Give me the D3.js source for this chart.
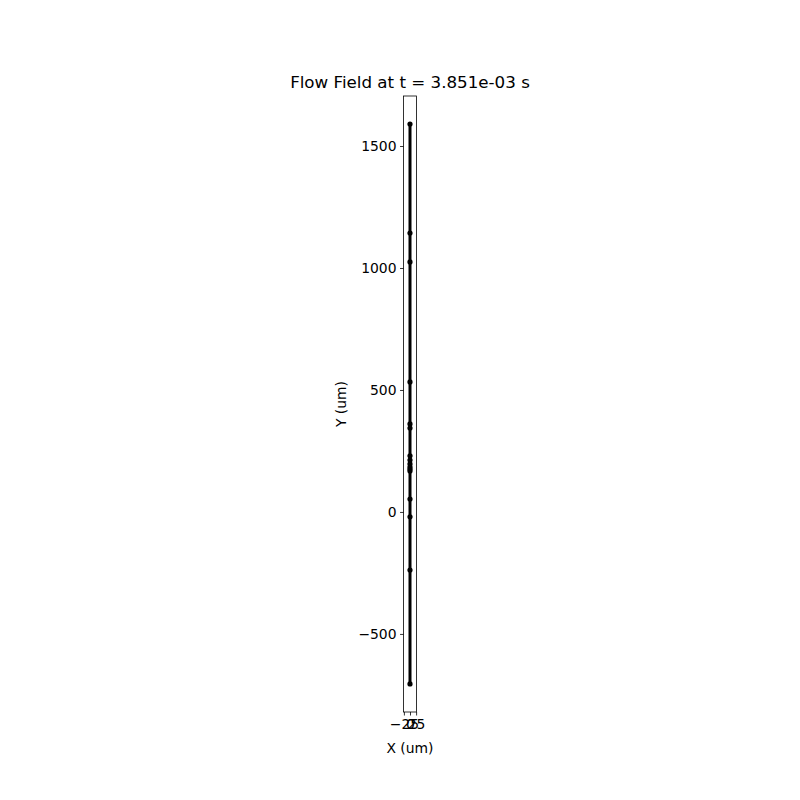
<!DOCTYPE html>
<html>
<head>
<meta charset="utf-8">
<script src="https://cdn.jsdelivr.net/npm/d3@7"></script>
<style>
  body { margin: 0; background: #fff; }
  svg { display: block; font-family: "DejaVu Sans", sans-serif; }
</style>
</head>
<body>
<svg id="chart" width="800" height="800"></svg>
<script>
// Data (um)
const pointX = [0, 0, 0, 0, 0, 0, 0, 0, 0, 0, 0, 0, 0, 0, 0, 0];
const pointY = [1590, 1143, 1025, 533, 361, 344, 230, 213, 197, 184, 176, 168, 53, -20, -238, -705];
const xTicks = [-25, 0, 25];
const yTicks = [-500, 0, 500, 1000, 1500];
const xDomain = [-26.5, 26.5];
const yDomain = [-820, 1705];
const titleText = "Flow Field at t = 3.851e-03 s";

(function () {
const svg = d3.select("#chart");
const plotTop = 96, plotBottom = 712;
const pxPerUnit = (plotBottom - plotTop) / (yDomain[1] - yDomain[0]);
const cx = 410;
const halfW = (xDomain[1] - xDomain[0]) * pxPerUnit / 2;
const plotLeft = cx - halfW, plotRight = cx + halfW;

const x = d3.scaleLinear().domain(xDomain).range([plotLeft, plotRight]);
const y = d3.scaleLinear().domain(yDomain).range([plotBottom, plotTop]);

const pts = pointY.map((v, i) => ({ x: pointX[i], y: v }));

// trajectory line
const sorted = pts.slice().sort((a, b) => b.y - a.y);
svg.append("path")
  .datum(sorted)
  .attr("fill", "none")
  .attr("stroke", "#000")
  .attr("stroke-width", 3)
  .attr("d", d3.line().x(d => x(d.x)).y(d => y(d.y)));

svg.append("g").selectAll("circle")
  .data(pts).join("circle")
  .attr("cx", d => x(d.x))
  .attr("cy", d => y(d.y))
  .attr("r", 2.6)
  .attr("fill", "#000");

// axes frame
svg.append("rect")
  .attr("x", plotLeft).attr("y", plotTop)
  .attr("width", plotRight - plotLeft).attr("height", plotBottom - plotTop)
  .attr("fill", "none").attr("stroke", "#000").attr("stroke-width", 0.8);

const fmt = d => d < 0 ? "\u2212" + Math.abs(d) : String(d);

const xAxis = d3.axisBottom(x).tickValues(xTicks).tickSize(3.5).tickPadding(3.5).tickFormat(fmt);
const gx = svg.append("g").attr("transform", `translate(0,${plotBottom})`).call(xAxis);
gx.select(".domain").remove();
gx.selectAll("line").attr("stroke-width", 0.8);
gx.selectAll("text").attr("font-size", 13.9).attr("font-family", "DejaVu Sans").attr("fill", "#000");

const yAxis = d3.axisLeft(y).tickValues(yTicks).tickSize(3.5).tickPadding(3.5).tickFormat(fmt);
const gy = svg.append("g").attr("transform", `translate(${plotLeft},0)`).call(yAxis);
gy.select(".domain").remove();
gy.selectAll("line").attr("stroke-width", 0.8);
gy.selectAll("text").attr("font-size", 13.9).attr("font-family", "DejaVu Sans").attr("fill", "#000");

svg.append("text")
  .attr("x", cx).attr("y", 88)
  .attr("text-anchor", "middle")
  .attr("font-size", 16.7)
  .text(titleText);

svg.append("text")
  .attr("x", cx).attr("y", 753)
  .attr("text-anchor", "middle")
  .attr("font-size", 13.9)
  .text("X (um)");

svg.append("text")
  .attr("transform", `translate(346,${(plotTop + plotBottom) / 2}) rotate(-90)`)
  .attr("text-anchor", "middle")
  .attr("font-size", 13.9)
  .text("Y (um)");
})();
</script>
</body>
</html>
